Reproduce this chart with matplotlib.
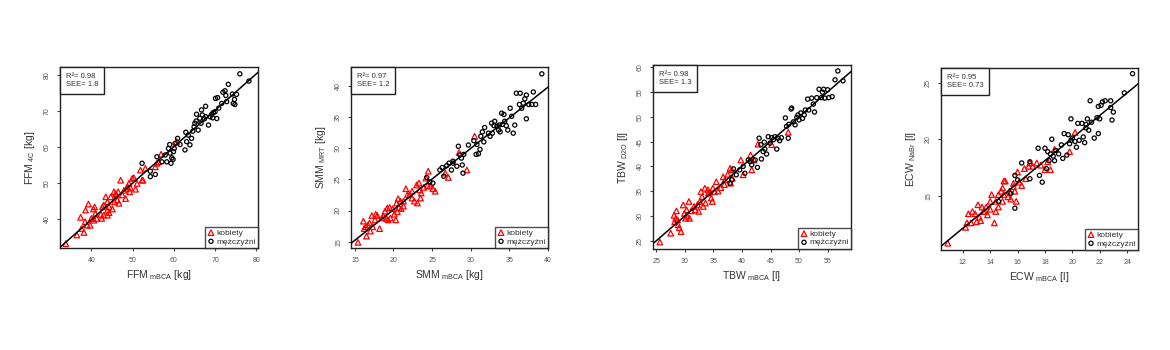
# four scatter panels: mBCA vs reference method, women / men, with regression line

import numpy as np
from matplotlib import pyplot as plt
from matplotlib.offsetbox import AnchoredText

plt.rcParams['font.family'] = ['Liberation Sans', 'DejaVu Sans']
plt.rcParams['mathtext.fontset'] = 'custom'
plt.rcParams['mathtext.rm'] = 'Liberation Sans'

# FFM panel
ffm_kob_x = [33.8, 36.5, 37.6, 38.2, 38.5, 37.4, 38.6, 39.3, 40.0, 40.5, 40.8, 41.3, 41.0, 42.7, 43.0,
             43.5, 43.9, 43.9, 44.3, 44.7, 45.1, 45.5, 45.9, 45.6, 46.3, 46.7, 47.1, 47.5, 48.5, 48.8,
             49.1, 49.5, 49.9, 50.3, 50.7, 51.1, 51.9, 52.3, 52.5, 53.1, 55.5, 55.9, 56.3, 56.9, 60.7,
             43.9, 42.5, 39.0, 39.7, 40.6, 42.3, 43.0, 44.3, 46.1, 46.5, 47.9, 48.3, 49.3]
ffm_kob_y = [33.2, 35.6, 37.4, 36.3, 39.3, 40.5, 42.5, 44.2, 40.2, 42.8, 43.4, 40.2, 41.6, 43.4, 41.1,
             46.2, 44.8, 42.5, 41.8, 46.2, 42.8, 47.6, 47.1, 44.8, 45.3, 44.4, 50.8, 46.7, 48.5, 49.0,
             49.9, 48.7, 51.3, 51.5, 48.3, 49.9, 53.6, 50.8, 50.8, 54.1, 54.5, 55.5, 55.9, 58.0, 61.5,
             41.1, 40.2, 38.3, 38.3, 39.7, 41.3, 43.9, 43.4, 46.7, 47.6, 48.0, 45.7, 47.6]
ffm_mez_x = [52.3, 54.3, 54.3, 55.5, 55.9, 57.1, 57.9, 58.3, 58.7, 59.0, 59.1, 59.3, 59.5, 59.9, 59.8,
             60.1, 60.3, 60.9, 61.5, 62.7, 62.9, 63.1, 63.5, 63.9, 64.3, 64.6, 64.9, 65.1, 65.4, 65.9,
             66.3, 66.6, 66.7, 66.9, 67.4, 67.7, 68.4, 68.8, 69.2, 69.4, 69.6, 70.0, 70.1, 70.4, 70.6,
             71.6, 71.9, 72.4, 72.6, 72.8, 73.2, 74.2, 74.4, 74.7, 75.2, 76.0, 78.2, 74.8, 65.5, 67.7, 70.9]
ffm_mez_y = [55.5, 53.3, 51.8, 52.4, 57.3, 55.9, 57.8, 55.9, 59.6, 60.7, 58.3, 55.5, 57.0, 58.7, 56.6,
             59.6, 61.0, 62.4, 60.7, 59.2, 64.1, 61.5, 63.3, 60.6, 62.4, 64.4, 65.6, 66.6, 67.2, 64.7,
             68.0, 66.6, 70.3, 68.9, 67.8, 68.4, 66.1, 68.4, 69.1, 68.1, 69.6, 69.8, 73.5, 67.9, 73.7,
             72.1, 75.2, 75.6, 74.3, 72.6, 77.4, 74.7, 72.1, 73.2, 74.6, 80.3, 78.3, 71.8, 69.1, 71.3, 70.8]

# SMM panel
smm_kob_x = [15.4, 16.2, 16.5, 16.4, 16.7, 16.9, 17.0, 17.2, 17.3, 17.6, 17.9, 18.2, 18.5, 18.7, 19.1,
             19.2, 19.3, 19.5, 19.6, 19.9, 20.1, 20.3, 20.4, 20.5, 20.6, 20.7, 20.9, 21.0, 21.3, 21.6,
             21.8, 22.1, 22.4, 22.7, 23.0, 23.1, 23.3, 23.5, 23.6, 23.9, 24.2, 24.4, 24.5, 24.7, 25.1,
             25.4, 26.7, 27.1, 28.5, 29.5, 30.5, 16.1, 17.7, 18.9, 21.3, 22.4, 23.4]
smm_kob_y = [14.9, 17.1, 15.9, 17.4, 17.7, 18.0, 16.7, 19.2, 17.4, 18.5, 19.2, 17.1, 18.8, 19.1, 18.7,
             20.4, 18.5, 20.5, 18.8, 20.3, 19.4, 18.5, 21.2, 19.8, 21.9, 20.5, 21.5, 20.3, 20.7, 23.5,
             22.5, 22.6, 22.0, 21.5, 24.1, 21.2, 24.4, 22.0, 22.8, 23.7, 25.2, 24.0, 26.3, 23.9, 23.5,
             23.1, 26.0, 25.3, 29.3, 26.5, 31.9, 18.3, 19.4, 19.9, 21.5, 23.1, 23.3]
smm_mez_x = [24.3, 24.7, 25.1, 26.0, 26.3, 26.5, 26.9, 27.2, 27.5, 27.7, 28.2, 28.4, 28.6, 28.8, 28.9,
             29.0, 29.1, 30.4, 30.7, 30.8, 31.0, 31.2, 31.3, 31.5, 31.7, 31.8, 32.3, 32.5, 32.7, 32.8,
             33.0, 33.1, 33.4, 33.6, 33.7, 33.8, 34.0, 34.1, 34.3, 34.4, 34.6, 34.8, 35.1, 35.3, 35.5,
             35.7, 35.9, 36.3, 36.4, 36.6, 36.8, 37.0, 37.2, 37.2, 37.5, 37.9, 38.1, 38.4, 39.2, 29.7, 27.7]
smm_mez_y = [25.3, 24.6, 24.4, 26.5, 26.9, 25.5, 27.2, 27.6, 26.5, 27.9, 27.1, 30.3, 28.9, 28.4, 27.3,
             26.0, 29.0, 31.2, 29.0, 30.6, 29.1, 29.8, 31.9, 32.6, 31.0, 33.3, 32.4, 31.9, 34.0, 32.4,
             33.6, 34.3, 33.5, 32.9, 33.7, 32.6, 35.6, 33.8, 35.4, 34.3, 33.6, 32.9, 36.4, 35.1, 32.4,
             33.7, 38.8, 37.0, 38.8, 36.4, 37.2, 37.9, 34.7, 38.5, 37.0, 37.0, 39.0, 37.0, 41.9, 30.5, 27.6]

# TBW panel
tbw_kob_x = [25.6, 27.5, 28.1, 28.4, 28.5, 28.7, 28.8, 29.0, 29.3, 29.7, 29.9, 30.1, 30.3, 30.4, 30.7,
             30.8, 31.6, 31.8, 32.2, 32.4, 32.6, 32.8, 33.0, 33.2, 33.5, 33.6, 34.0, 34.1, 34.6, 34.8,
             34.9, 35.2, 35.5, 35.8, 36.3, 36.7, 36.9, 37.5, 37.9, 38.0, 38.2, 38.3, 39.8, 40.2, 41.5,
             41.7, 42.1, 42.8, 45.2, 48.1, 28.2, 31.1, 34.4, 37.0]
tbw_kob_y = [24.7, 26.5, 30.1, 29.5, 31.0, 29.2, 28.2, 27.6, 26.8, 32.2, 30.5, 29.5, 31.2, 29.9, 32.9,
             29.5, 31.9, 31.2, 32.3, 30.9, 32.9, 34.9, 33.9, 31.9, 35.6, 32.6, 35.3, 34.6, 33.6, 32.9,
             35.6, 34.9, 36.9, 35.0, 35.7, 37.9, 36.3, 38.4, 39.6, 36.6, 39.3, 37.6, 41.3, 38.3, 42.3,
             39.3, 41.3, 44.5, 44.4, 46.9, 28.8, 31.0, 34.8, 37.3]
tbw_mez_x = [37.9, 38.2, 38.5, 39.0, 39.6, 40.2, 40.5, 41.1, 41.4, 41.7, 42.3, 42.7, 43.0, 43.3, 43.4,
             43.7, 43.9, 44.0, 44.3, 44.6, 44.9, 45.2, 45.5, 45.8, 46.1, 46.3, 46.6, 46.9, 47.6, 47.8,
             48.1, 48.2, 48.6, 48.7, 49.0, 49.3, 49.6, 49.8, 50.0, 50.3, 50.6, 50.9, 51.1, 51.5, 51.7,
             52.2, 52.5, 52.7, 53.1, 53.5, 53.9, 54.1, 54.5, 55.0, 55.2, 55.8, 56.3, 56.8, 57.7, 54.3]
tbw_mez_y = [36.6, 37.3, 39.5, 38.3, 39.3, 40.0, 38.6, 41.3, 41.0, 40.3, 41.3, 39.8, 45.7, 44.4, 41.5,
             43.0, 44.9, 43.5, 42.5, 46.0, 44.7, 45.8, 45.4, 46.0, 43.5, 45.7, 45.2, 45.8, 49.8, 48.1,
             45.7, 48.5, 51.6, 51.8, 49.0, 48.4, 49.9, 50.4, 49.4, 50.8, 49.7, 50.4, 51.4, 53.6, 51.4,
             53.8, 52.6, 51.0, 53.9, 55.6, 53.9, 55.0, 53.8, 55.5, 53.9, 54.1, 57.5, 59.3, 57.3, 55.6]

# ECW panel
ecw_kob_x = [10.9, 12.2, 12.3, 12.4, 12.6, 12.7, 12.9, 13.0, 13.1, 13.2, 13.3, 13.4, 13.5, 13.7, 13.8,
             14.0, 14.0, 14.1, 14.3, 14.4, 14.4, 14.6, 14.6, 14.8, 14.9, 14.9, 15.0, 15.1, 15.3, 15.4,
             15.5, 15.7, 15.7, 15.8, 15.9, 16.0, 16.1, 16.3, 16.5, 16.6, 16.8, 16.9, 17.1, 17.4, 17.7,
             18.0, 18.2, 18.4, 18.7, 19.8, 20.2, 13.6, 15.0]
ecw_kob_y = [10.8, 12.2, 12.6, 13.4, 12.6, 13.6, 13.4, 12.7, 14.2, 13.1, 12.8, 14.0, 13.6, 14.0, 13.3,
             13.8, 14.5, 15.1, 12.6, 13.6, 14.5, 15.1, 14.0, 15.4, 15.7, 14.5, 16.3, 16.3, 14.9, 15.4,
             14.7, 15.8, 16.1, 15.4, 14.5, 17.1, 16.2, 15.9, 17.4, 16.5, 17.6, 17.9, 17.6, 17.9, 17.7,
             17.3, 18.0, 17.3, 19.1, 18.9, 20.6, 13.6, 15.1]
ecw_mez_x = [14.6, 15.5, 15.8, 15.8, 16.0, 16.3, 16.9, 16.9, 17.5, 17.6, 17.8, 18.0, 18.1, 18.2, 18.3,
             18.4, 18.5, 18.6, 18.7, 18.8, 19.0, 19.2, 19.3, 19.4, 19.6, 19.7, 19.8, 19.9, 19.9, 20.0,
             20.2, 20.3, 20.4, 20.5, 20.7, 20.8, 20.9, 21.0, 21.0, 21.1, 21.2, 21.3, 21.4, 21.6, 21.8,
             21.9, 21.9, 22.0, 22.1, 22.2, 22.4, 22.8, 22.8, 22.9, 23.0, 23.8, 24.4]
ecw_mez_y = [14.5, 15.2, 13.9, 16.8, 16.4, 17.9, 16.5, 18.0, 19.2, 16.8, 16.2, 19.2, 17.4, 18.9, 18.1,
             18.7, 20.0, 18.5, 18.1, 19.0, 18.7, 19.5, 18.3, 20.5, 18.6, 20.4, 19.6, 21.8, 19.9, 20.1,
             19.8, 19.3, 21.4, 19.9, 21.4, 20.2, 19.7, 21.3, 21.0, 21.8, 20.8, 23.4, 21.5, 20.1, 21.9,
             22.9, 20.5, 21.8, 23.0, 23.3, 23.4, 23.4, 22.8, 21.7, 22.4, 24.1, 25.8]

x_labels = [r'FFM$_{\mathrm{\ mBCA}}$ [kg]', r'SMM$_{\mathrm{\ mBCA}}$ [kg]',
            r'TBW$_{\mathrm{\ mBCA}}$ [l]', r'ECW$_{\mathrm{\ mBCA}}$ [l]']
y_labels = [r'FFM$_{\mathrm{\ 4C}}$ [kg]', r'SMM$_{\mathrm{\ MRT}}$ [kg]',
            r'TBW$_{\mathrm{\ D2O}}$ [l]', r'ECW$_{\mathrm{\ NaBr}}$ [l]']
r2_vals = ['0.98', '0.97', '0.98', '0.95']
see_vals = ['1.8', '1.2', '1.3', '0.73']
x_ticks = [[40, 50, 60, 70, 80], [15, 20, 25, 30, 35, 40],
           [25, 30, 35, 40, 45, 50, 55], [12, 14, 16, 18, 20, 22, 24]]
y_ticks = [[40, 50, 60, 70, 80], [15, 20, 25, 30, 35, 40],
           [25, 30, 35, 40, 45, 50, 55, 60], [15, 20, 25]]

panels = [
    (ffm_kob_x, ffm_kob_y, ffm_mez_x, ffm_mez_y),
    (smm_kob_x, smm_kob_y, smm_mez_x, smm_mez_y),
    (tbw_kob_x, tbw_kob_y, tbw_mez_x, tbw_mez_y),
    (ecw_kob_x, ecw_kob_y, ecw_mez_x, ecw_mez_y),
]

# axes boxes in pixels (left, right, top, bottom) of a 1170x350 figure
boxes = [(60, 258, 67, 248), (351, 548, 67, 248), (653, 851, 65, 249), (941, 1138, 68, 250)]
limits = [((32.4, 80.4), (32.0, 82.2)), ((14.5, 40.0), (14.0, 43.0)),
          ((24.4, 59.1), (23.3, 60.5)), ((10.4, 24.8), (10.2, 26.3))]

W, H = 1170, 350
fig = plt.figure(figsize=(W / 100, H / 100), dpi=100)

for i, (kx, ky, mx, my) in enumerate(panels):
    l, r, t, b = boxes[i]
    ax = fig.add_axes([l / W, 1 - b / H, (r - l) / W, (b - t) / H])

    ax.scatter(kx, ky, marker='^', s=16, facecolors='none', edgecolors='red',
               linewidths=0.9, label='kobiety', zorder=3)
    ax.scatter(mx, my, marker='o', s=9, facecolors='none', edgecolors='black',
               linewidths=0.9, label='mężczyźni', zorder=3)

    # regression line over all points
    all_x = np.array(kx + mx)
    all_y = np.array(ky + my)
    slope, icpt = np.polyfit(all_x, all_y, 1)
    ax.axline((0, icpt), slope=slope, color='black', lw=1.1, zorder=4)

    ax.set_xlim(*limits[i][0])
    ax.set_ylim(*limits[i][1])
    ax.set_xticks(x_ticks[i])
    ax.set_yticks(y_ticks[i])
    ax.tick_params(labelsize=5, colors='#444444', length=2.5, width=0.8, pad=4)
    ax.tick_params(axis='x', labelcolor='#555555')
    ax.tick_params(axis='y', labelcolor='#555555')
    for lab in ax.get_yticklabels():
        lab.set_rotation(90)
        lab.set_va('center')
    for sp in ax.spines.values():
        sp.set_linewidth(1.0)
        sp.set_color('#222222')

    ax.set_xlabel(x_labels[i], fontsize=7.5, color='#333333', labelpad=3)
    ax.set_ylabel(y_labels[i], fontsize=7.5, color='#333333', labelpad=5)

    at = AnchoredText('R²= %s\nSEE= %s' % (r2_vals[i], see_vals[i]), loc='upper left',
                      prop=dict(size=5.5, color='#333333', linespacing=1.3),
                      frameon=True, borderpad=0, pad=0.75)
    at.patch.set_boxstyle('square', pad=0)
    at.patch.set_linewidth(1.0)
    at.patch.set_edgecolor('#222222')
    ax.add_artist(at)

    leg = ax.legend(loc='lower right', fontsize=6, frameon=True, fancybox=False,
                    borderaxespad=0, handletextpad=0.2, handlelength=0.8,
                    borderpad=0.3, labelspacing=0.1, markerscale=1.0)
    leg.get_frame().set_edgecolor('#222222')
    leg.get_frame().set_linewidth(1.0)
    for txt in leg.get_texts():
        txt.set_color('#333333')

fig.savefig('out.png', dpi=100)
